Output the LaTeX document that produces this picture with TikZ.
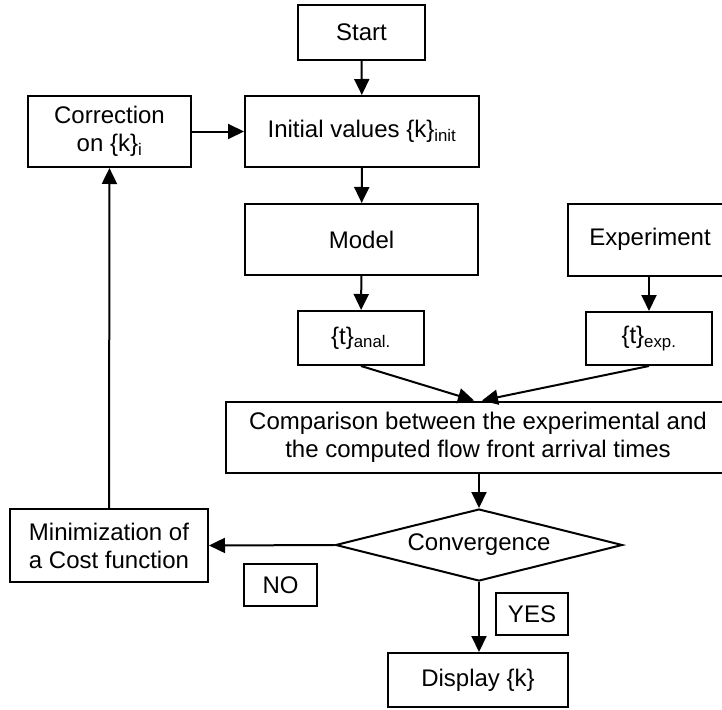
\documentclass[tikz,border=0pt]{standalone}
\usepackage{fontspec}
\setmainfont{Liberation Sans}
\usetikzlibrary{arrows.meta,shapes.geometric}
\begin{document}
\begin{tikzpicture}[x=1pt,y=-1pt,
  every node/.style={font=\fontsize{24}{28}\selectfont, align=center, inner sep=0pt},
  box/.style={draw, line width=2pt, rectangle},
  arr/.style={line width=2pt, -{Triangle[length=16pt,width=15pt]}},
  ln/.style={line width=2pt}]
\clip (0,0) rectangle (722,709);
\fill[white] (0,0) rectangle (722,709);
\node[box, minimum width=127pt, minimum height=55pt] (start) at (361.5,32.5) {Start};
\node[box, minimum width=234pt, minimum height=71pt] (init) at (362,131.5) {Initial values \{k\}\textsubscript{init}};
\node[box, minimum width=163pt, minimum height=71pt] (corr) at (109.5,131.5) {Correction\\on \{k\}\textsubscript{i}};
\node[box, minimum width=233pt, minimum height=71pt] (model) at (361.5,239.5) {Model};
\node[box, minimum width=164pt, minimum height=72pt] (exp) at (650,239.5) {Experiment};
\node[box, minimum width=126pt, minimum height=54pt] (tanal) at (361,338) {\{t\}\textsubscript{anal.}};
\node[box, minimum width=126pt, minimum height=53pt] (texp) at (649,338.5) {\{t\}\textsubscript{exp.}};
\node[box, minimum width=504pt, minimum height=71pt] (comp) at (478,437) {Comparison between the experimental and\\the computed flow front arrival times};
\node[draw, line width=2pt, diamond, aspect=4, minimum width=287pt, minimum height=72pt] (conv) at (479,545) {Convergence};
\node[box, minimum width=198pt, minimum height=73pt] (mini) at (109,545.5) {Minimization of\\a Cost function};
\node[box, minimum width=73pt, minimum height=42pt] (no) at (280.5,585) {NO};
\node[box, minimum width=72pt, minimum height=42pt] (yes) at (532,614) {YES};
\node[box, minimum width=180pt, minimum height=54pt] (disp) at (478,680) {Display \{k\}};
\draw[arr] (start) -- (init);
\draw[arr] (corr) -- (init);
\draw[arr] (init) -- (model);
\draw[arr] (model) -- (tanal);
\draw[arr] (exp.south -| texp.north) -- (texp);
\draw[arr] (tanal.south) -- ([xshift=-4pt]comp.north);
\draw[arr] (texp.south) -- ([xshift=4pt]comp.north);
\draw[arr] (comp.south -| conv.north) -- (conv.north);
\draw[arr] (conv.west) -- (mini.east);
\draw[arr] (mini) -- (corr);
\draw[arr] (conv.south) -- (disp.north -| conv.south);
\end{tikzpicture}
\end{document}
